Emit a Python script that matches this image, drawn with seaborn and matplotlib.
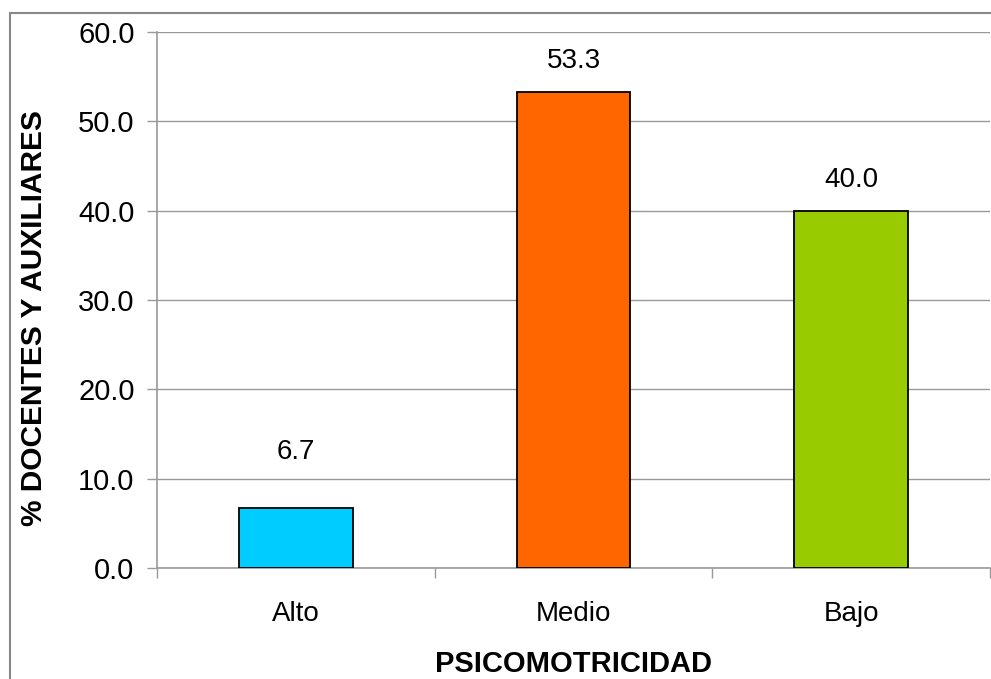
import numpy as np
import pandas as pd
import seaborn as sns
import matplotlib.pyplot as plt
from matplotlib.lines import Line2D
from matplotlib.ticker import FixedLocator

categories = ["Alto", "Medio", "Bajo"]
percent = [6.7, 53.3, 40.0]
bar_colors = ["#00CCFF", "#FF6600", "#99CC00"]
y_ticks = [0, 10, 20, 30, 40, 50, 60]

df = pd.DataFrame({"nivel": categories, "pct": percent})

sns.set_style("white")
plt.rcParams["font.family"] = ["Liberation Sans", "DejaVu Sans"]
plt.rcParams["text.color"] = "black"
plt.rcParams["xtick.labelcolor"] = "black"
plt.rcParams["ytick.labelcolor"] = "black"
plt.rcParams["axes.labelcolor"] = "black"

fig = plt.figure(figsize=(9.91, 6.79), dpi=100)
ax = fig.add_axes([157 / 991, 1 - 568 / 679, 833 / 991, 536 / 679])

sns.barplot(
    data=df, x="nivel", y="pct", hue="nivel", palette=bar_colors, saturation=1,
    width=0.41, edgecolor="black", linewidth=1.3, legend=False, ax=ax, zorder=3,
)

ax.set_xlim(-0.5, 2.5)
ax.set_ylim(0, 60)
ax.set_yticks(y_ticks)
ax.set_yticklabels([f"{v:.1f}" for v in y_ticks])
ax.yaxis.grid(True, color="#999999", lw=1)
ax.set_axisbelow(True)

# the small bar's label sits higher, clear of the 10.0 gridline
label_offsets = [31, 13, 13]
for i, v in enumerate(percent):
    ax.annotate(f"{v:.1f}", (i, v), xytext=(0, label_offsets[i]), textcoords="offset points",
                ha="center", va="bottom", fontsize=20)

sns.despine(ax=ax, top=True, right=True)
for s in ("left", "bottom"):
    ax.spines[s].set_color("#999999")
    ax.spines[s].set_linewidth(1.2)

ax.tick_params(axis="y", length=7.2, width=1, color="#999999", labelsize=21, pad=9, left=True)
ax.tick_params(axis="x", which="major", length=0, labelsize=20, pad=24)
ax.xaxis.set_minor_locator(FixedLocator([-0.5, 0.5, 1.5, 2.5]))
ax.tick_params(axis="x", which="minor", length=7.2, width=1, color="#999999", bottom=True)

ax.set_xlabel("PSICOMOTRICIDAD", fontsize=21, fontweight="bold", labelpad=16)
ax.set_ylabel("% DOCENTES Y AUXILIARES", fontsize=21.5, fontweight="bold")
ax.yaxis.set_label_coords((48 - 157) / 833, (568 - 318) / 536)

# outer chart frame (only left and top are visible in the crop)
x0 = 10 / 991
y0 = 1 - 13 / 679
fig.add_artist(Line2D([x0, x0], [0, y0], color="#888888", lw=1.5, transform=fig.transFigure))
fig.add_artist(Line2D([x0, 1], [y0, y0], color="#888888", lw=1.5, transform=fig.transFigure))

fig.savefig("out.png", dpi=100)
